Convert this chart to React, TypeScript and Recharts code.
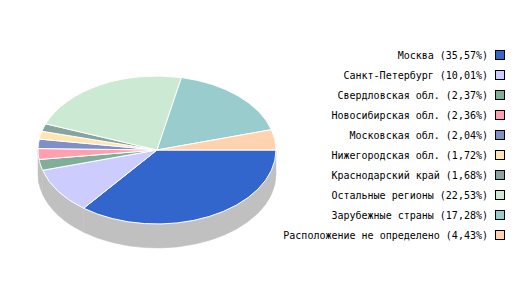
import React from 'react';
import { PieChart, Pie, Cell, Legend } from 'recharts';

const regions = [
  'Москва',
  'Санкт-Петербург',
  'Свердловская обл.',
  'Новосибирская обл.',
  'Московская обл.',
  'Нижегородская обл.',
  'Краснодарский край',
  'Остальные регионы',
  'Зарубежные страны',
  'Расположение не определено',
];
const shares = [35.57, 10.01, 2.37, 2.36, 2.04, 1.72, 1.68, 22.53, 17.28, 4.43];
const colors = [
  '#3366cc', '#ccccff', '#80ae98', '#ff9faf', '#7f8fc8',
  '#ffe6b0', '#88a49e', '#cce9d4', '#99cccc', '#ffd3b0',
];
const shareLabels = ['35,57', '10,01', '2,37', '2,36', '2,04', '1,72', '1,68', '22,53', '17,28', '4,43'];

const data = regions.map((name, i) => ({ name, value: shares[i], color: colors[i], label: shareLabels[i] }));

const RY_RATIO = 74 / 119;
const DEPTH = 24;
const RAD = Math.PI / 180;

const EllipseSector = (props: any) => {
  const { cx, cy, outerRadius, startAngle, endAngle, fill } = props;
  const rx = outerRadius;
  const ry = outerRadius * RY_RATIO;
  const pt = (a: number, dy = 0) => [cx + rx * Math.cos(a * RAD), cy - ry * Math.sin(a * RAD) + dy];
  const delta = endAngle - startAngle;
  const large = Math.abs(delta) > 180 ? 1 : 0;
  const sweep = delta < 0 ? 1 : 0;
  const [sx, sy] = pt(startAngle);
  const [ex, ey] = pt(endAngle);
  const top = `M${cx},${cy} L${sx},${sy} A${rx},${ry} 0 ${large} ${sweep} ${ex},${ey} Z`;

  const hi = Math.min(Math.max(startAngle, endAngle), 0);
  const lo = Math.max(Math.min(startAngle, endAngle), -180);
  let wall: string | null = null;
  if (lo < hi) {
    const [ax, ay] = pt(hi);
    const [bx, by] = pt(lo);
    const [cx2, cy2] = pt(lo, DEPTH);
    const [dx, dy] = pt(hi, DEPTH);
    const lg = hi - lo > 180 ? 1 : 0;
    wall = `M${ax},${ay} A${rx},${ry} 0 ${lg} 1 ${bx},${by} L${cx2},${cy2} A${rx},${ry} 0 ${lg} 0 ${dx},${dy} Z`;
  }
  return (
    <g>
      {wall && <path d={wall} fill="#c0c0c0" stroke="#c0c0c0" strokeWidth={0.5} />}
      <path d={top} fill={fill} stroke="#ffffff" strokeWidth={1} />
    </g>
  );
};

const LegendContent = () => (
  <div style={{ fontFamily: '"DejaVu Sans Mono", monospace', fontSize: 10, color: '#000' }}>
    {data.map((d) => (
      <div
        key={d.name}
        style={{ height: 20, display: 'flex', alignItems: 'center', justifyContent: 'flex-end', whiteSpace: 'nowrap' }}
      >
        <span>{`${d.name} (${d.label}%)`}</span>
        <span
          style={{
            display: 'inline-block',
            width: 10,
            height: 10,
            boxSizing: 'border-box',
            border: '1px solid #000',
            background: d.color,
            marginLeft: 7,
          }}
        />
      </div>
    ))}
  </div>
);

export default function App() {
  return (
    <PieChart
      width={512}
      height={300}
      margin={{ top: 0, right: 0, bottom: 0, left: 0 }}
      style={{ position: 'absolute', left: 0, top: 0 }}
    >
      <Pie
        data={data}
        dataKey="value"
        nameKey="name"
        cx={157}
        cy={150}
        outerRadius={119}
        startAngle={0}
        endAngle={-360}
        isAnimationActive={false}
        shape={EllipseSector}
        activeShape={EllipseSector}
        inactiveShape={EllipseSector}
        stroke="#ffffff"
      >
        {data.map((d) => (
          <Cell key={d.name} fill={d.color} />
        ))}
      </Pie>
      <Legend
        content={<LegendContent />}
        wrapperStyle={{ position: 'absolute', top: 45, right: 7, left: 'auto', width: 'auto', bottom: 'auto' }}
      />
    </PieChart>
  );
}
